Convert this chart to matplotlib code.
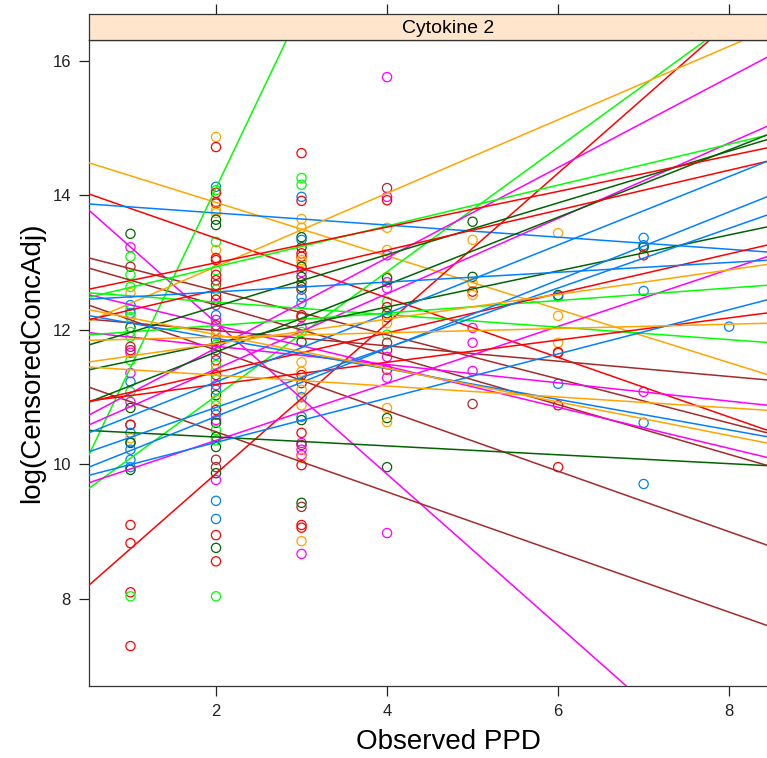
import matplotlib
matplotlib.use('Agg')
import matplotlib.pyplot as plt
import numpy as np

plt.rcParams['font.family'] = ['Liberation Sans', 'DejaVu Sans']

# lattice superpose colours, keyed by a one-letter group code
pal = {'B': '#0080ff', 'M': '#ff00ff', 'D': '#006400', 'R': '#ff0000',
       'O': '#ffa500', 'G': '#00ff00', 'N': '#a52a2a'}

# observed log(CensoredConcAdj) at each PPD value, with group colour codes
y_ppd1 = [13.43, 13.23, 13.09, 12.94, 12.82, 12.64, 12.55, 12.37, 12.30, 12.25,
          12.19, 12.04, 11.97, 11.90, 11.75, 11.70, 11.66, 11.55, 11.36, 11.23,
          11.08, 10.93, 10.84, 10.59, 10.59, 10.47, 10.39, 10.33, 10.32, 10.22,
          10.07, 9.96, 9.92, 9.10, 8.83, 8.10, 8.04, 7.30]
c_ppd1 = "DMGNGGOBGBGDGGNRMGMBGMDBRBOBDBBBDRRRGR"

y_ppd2 = [14.87, 14.72, 14.13, 14.08, 14.04, 13.90, 13.88, 13.78, 13.74, 13.64,
          13.56, 13.31, 13.19, 13.07, 13.04, 12.89, 12.82, 12.74, 12.67, 12.60,
          12.52, 12.45, 12.37, 12.22, 12.15, 12.07, 12.00, 11.92, 11.85, 11.78,
          11.70, 11.63, 11.55, 11.48, 11.41, 11.33, 11.26, 11.18, 11.11, 11.03,
          10.96, 10.88, 10.81, 10.74, 10.66, 10.62, 10.51, 10.41, 10.36, 10.26,
          10.07, 9.96, 9.87, 9.77, 9.46, 9.19, 8.95, 8.76, 8.56, 8.04]
c_ppd2 = "ORBGRRNOODDGORRGRRNGRRMBMRMORGNBRGORGMBDOGRBMDGDGDNNDMBBRDRG"

y_ppd3 = [14.63, 14.26, 14.16, 13.98, 13.92, 13.65, 13.52, 13.38, 13.34, 13.23,
          13.14, 13.09, 13.04, 13.01, 12.94, 12.86, 12.79, 12.71, 12.64, 12.60,
          12.49, 12.40, 12.22, 12.19, 12.04, 11.97, 11.82, 11.52, 11.38, 11.33,
          11.21, 11.11, 11.00, 10.88, 10.71, 10.66, 10.47, 10.32, 10.29, 10.22,
          10.14, 10.10, 9.99, 9.43, 9.37, 9.10, 9.06, 8.86, 8.67]
c_ppd3 = "RGGBROODBDRROODMDNDNBBRRMGDOORNOBOBDRMNMMORDNRROM"

y_ppd4 = [15.76, 14.11, 13.98, 13.93, 13.52, 13.19, 13.11, 12.79, 12.77, 12.71,
          12.62, 12.42, 12.34, 12.25, 12.19, 12.10, 11.93, 11.81, 11.70, 11.60,
          11.41, 11.29, 10.84, 10.69, 10.63, 9.96, 8.98]
c_ppd4 = "MNMROOMODMMGRDROGNRMRMODODM"

y_ppd5 = [13.61, 13.34, 12.79, 12.70, 12.57, 12.52, 12.03, 11.81, 11.39, 10.90]
c_ppd5 = "DODOROMMMN"

y_ppd6 = [13.44, 12.52, 12.50, 12.21, 11.81, 11.67, 11.66, 11.20, 10.88, 9.96]
c_ppd6 = "ODBOORRBRR"

y_ppd7 = [13.37, 13.26, 13.23, 13.11, 12.58, 11.08, 10.62, 9.71]
c_ppd7 = "BBDRBMBB"

y_ppd8 = [12.05]
c_ppd8 = "B"

# per-subject fitted regression lines
line_int = [14.69, 14.25, 13.92, 14.36, 13.24, 13.11, 12.60, 11.38, 12.22, 8.77,
            9.17, 7.63, 11.85, 10.39, 10.30, 9.51, 12.03, 12.68, 12.60, 11.88,
            12.33, 11.58, 10.67, 11.27, 10.54, 12.47, 12.00, 10.78, 10.86, 12.33,
            10.21, 9.70, 9.96, 9.67, 12.42, 12.43, 11.83, 11.43, 11.49]
line_slope = [-0.397, -0.443, -0.090, -1.126, -0.328, -0.370, -0.450, -0.447, -0.114, 2.67,
              0.924, 1.117, 0.546, 0.671, 0.560, 0.424, -0.136, -0.305, -0.093, 0.093,
              0.304, 0.385, 0.501, 0.268, -0.066, 0.265, 0.297, 0.294, 0.165, -0.227,
              0.509, 0.507, 0.444, 0.329, 0.073, -0.250, 0.032, 0.183, -0.081]
line_col = "ORBMNNNNNGGROMMMMMGGGDDDDRRRRBBBBBBOOOO"

ppd_vals = [1, 2, 3, 4, 5, 6, 7, 8]
y_cols = [y_ppd1, y_ppd2, y_ppd3, y_ppd4, y_ppd5, y_ppd6, y_ppd7, y_ppd8]
c_cols = [c_ppd1, c_ppd2, c_ppd3, c_ppd4, c_ppd5, c_ppd6, c_ppd7, c_ppd8]

W, H = 767, 758
fig = plt.figure(figsize=(W / 100, H / 100), dpi=100)
x0, x1 = 89, 807
ax = fig.add_axes([x0 / W, 1 - 686 / H, (x1 - x0) / W, (686 - 40) / H])
xlim = (0.515, 8.91)
ax.set_xlim(*xlim)
ax.set_ylim(6.706, 16.312)

for px, ys, cs in zip(ppd_vals, y_cols, c_cols):
    ax.scatter([px] * len(ys), ys, s=44, facecolors='none',
               edgecolors=[pal[c] for c in cs], linewidths=0.9, zorder=2)

xx = np.array([0.3, 9.2])
for b, m, c in zip(line_int, line_slope, line_col):
    ax.plot(xx, b + m * xx, color=pal[c], lw=1.1, zorder=3)

ax.set_xticks([2, 4, 6, 8])
ax.set_yticks([8, 10, 12, 14, 16])
ax.tick_params(direction='out', length=7, width=0.9, labelsize=12,
               colors='#222222', pad=6)
for s in ax.spines.values():
    s.set_color('#333333')
    s.set_linewidth(0.9)
ax.set_xlabel('Observed PPD', fontsize=20, labelpad=7)
ax.set_ylabel('log(CensoredConcAdj)', fontsize=20, labelpad=5)

# strip on top of the panel
sa = fig.add_axes([x0 / W, 1 - 40 / H, (x1 - x0) / W, 26 / H])
sa.set_facecolor('#ffe5cc')
sa.set_xlim(*xlim)
sa.set_yticks([])
sa.set_xticks([2, 4, 6, 8])
sa.tick_params(axis='x', top=True, bottom=False, labeltop=False, labelbottom=False,
               direction='out', length=7, width=0.9, colors='#222222')
for s in sa.spines.values():
    s.set_color('#333333')
    s.set_linewidth(0.9)
sa.text(0.5, 0.45, 'Cytokine 2', transform=sa.transAxes, ha='center', va='center',
        fontsize=14)

fig.savefig('out.png', dpi=100)
